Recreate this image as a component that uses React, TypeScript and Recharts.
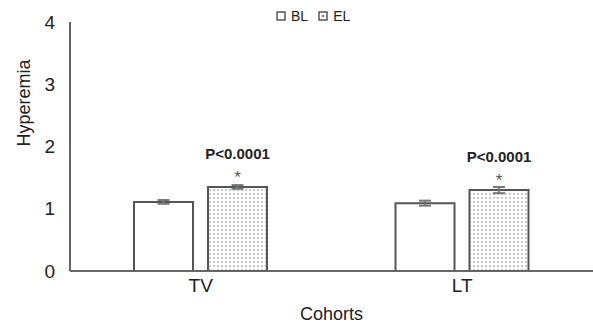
import React from 'react';
import { BarChart, Bar, XAxis, YAxis, ErrorBar, LabelList, Legend } from 'recharts';

const cohorts = ['TV', 'LT'];
const blValues = [1.11, 1.09];
const blErrors = [0.03, 0.04];
const elValues = [1.35, 1.3];
const elErrors = [0.03, 0.05];
const pLabels = ['P<0.0001', 'P<0.0001'];
const yTicks = [0, 1, 2, 3, 4];

const data = cohorts.map((c, i) => ({
  cohort: c,
  BL: blValues[i],
  blErr: blErrors[i],
  EL: elValues[i],
  elErr: elErrors[i],
  p: pLabels[i],
}));

const font = 'Liberation Sans, Arial, sans-serif';

const PLabel = (props: any) => {
  const { x, y, width, value } = props;
  const cx = x + width / 2;
  return (
    <g>
      <text x={cx} y={y - 28} textAnchor="middle" fontSize={15} fontWeight="bold" fill="#222" fontFamily={font}>
        {value}
      </text>
      <text x={cx} y={y - 4} textAnchor="middle" fontSize={17} fill="#555" fontFamily={font}>
        *
      </text>
    </g>
  );
};

const LegendContent = (props: any) => {
  const items = props.payload || [];
  return (
    <div style={{ display: 'flex', gap: 10, fontSize: 14, fontFamily: font, color: '#222' }}>
      {items.map((it: any) => (
        <span key={it.value} style={{ display: 'flex', alignItems: 'center' }}>
          <svg width={10} height={10} style={{ marginRight: 5 }}>
            <rect x={1} y={1} width={8} height={8} fill="#fff" stroke="#555" strokeWidth={1.5} />
            {it.value === 'EL' && <rect x={4} y={4} width={2} height={2} fill="#777" />}
          </svg>
          {it.value}
        </span>
      ))}
    </div>
  );
};

const App: React.FC = () => {
  return (
    <div style={{ position: 'absolute', left: 0, top: 0, fontFamily: font }}>
      <BarChart
        width={593}
        height={325}
        data={data}
        margin={{ top: 22, right: 0, bottom: 14, left: 0 }}
        barSize={59}
        barGap={15}
      >
        <defs>
          <pattern id="dots" width="4" height="4" patternUnits="userSpaceOnUse">
            <rect width="4" height="4" fill="#fff" />
            <circle cx="2" cy="2" r="0.8" fill="#888" />
          </pattern>
        </defs>
        <XAxis
          dataKey="cohort"
          height={40}
          tickLine={false}
          axisLine={{ stroke: '#666', strokeWidth: 2 }}
          tick={{ fill: '#222', fontSize: 19, fontFamily: font }}
          tickMargin={2}
          label={{ value: 'Cohorts', position: 'insideBottom', offset: -9, fill: '#222', fontSize: 18, fontFamily: font }}
        />
        <YAxis
          width={70}
          domain={[0, 4]}
          ticks={yTicks}
          tickLine={false}
          axisLine={{ stroke: '#666', strokeWidth: 2 }}
          tick={{ fill: '#222', fontSize: 19, fontFamily: font }}
          tickMargin={9}
          label={{ value: 'Hyperemia', angle: -90, position: 'insideLeft', offset: 24, fill: '#222', fontSize: 18, fontFamily: font }}
        />
        <Legend
          verticalAlign="middle"
          align="center"
          content={LegendContent}
          wrapperStyle={{ position: 'absolute', top: 8, left: 276, width: 'auto', height: 'auto' }}
        />
        <Bar dataKey="BL" name="BL" fill="#fff" stroke="#555" strokeWidth={2} isAnimationActive={false}>
          <ErrorBar dataKey="blErr" width={6} stroke="#777" strokeWidth={2} />
        </Bar>
        <Bar dataKey="EL" name="EL" fill="url(#dots)" stroke="#555" strokeWidth={2} isAnimationActive={false}>
          <ErrorBar dataKey="elErr" width={6} stroke="#777" strokeWidth={2} />
          <LabelList dataKey="p" content={PLabel} />
        </Bar>
      </BarChart>
    </div>
  );
};

export default App;
